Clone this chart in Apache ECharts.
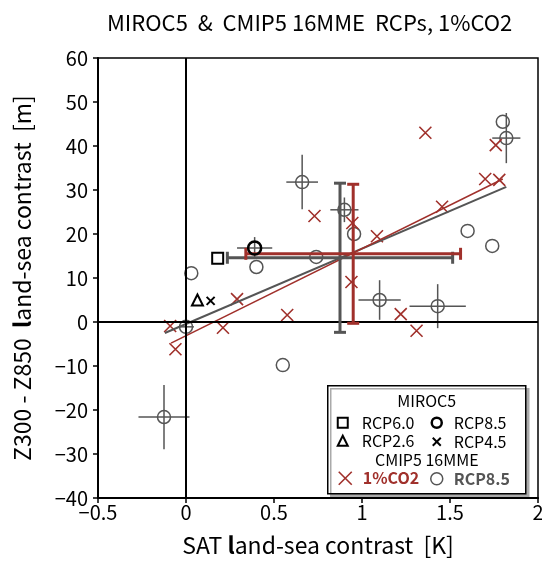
<!DOCTYPE html>
<html>
<head>
<meta charset="utf-8">
<script src="https://cdn.jsdelivr.net/npm/echarts@6/dist/echarts.min.js"></script>
<style>
  html, body { margin: 0; padding: 0; background: #fff; }
  #chart { width: 542px; height: 561px; }
</style>
</head>
<body>
<div id="chart"></div>
<script>
// CMIP5 16 models, RCP8.5 (gray circles)
const cmipRcp85 = [
  [1.80, 45.5], [1.82, 41.8], [1.74, 17.3], [1.60, 20.7], [0.955, 20.0], [0.90, 25.5],
  [0.66, 31.8], [0.74, 14.8], [1.10, 5.0], [1.43, 3.6], [0.03, 11.1], [0.40, 12.5],
  [0.0, -1.1], [0.55, -9.8], [-0.125, -21.6], [0.39, 16.8]
]
// [x, y, dx, dy] ensemble spread for models that have it
const cmipRcp85Err = [
  [1.82, 41.8, 0.08, 5.7], [0.90, 25.5, 0.08, 2.8], [0.66, 31.8, 0.09, 6.2],
  [1.10, 5.0, 0.12, 4.5], [1.43, 3.6, 0.16, 5.0], [0.0, -1.1, 0.045, 1.2],
  [-0.125, -21.6, 0.145, 7.3], [0.39, 16.8, 0.10, 2.5]
]
// CMIP5 16 models, 1%CO2 (red crosses)
const cmipCo2 = [
  [1.36, 43.0], [1.76, 40.2], [1.70, 32.5], [1.78, 32.3], [1.455, 26.2], [1.085, 19.5],
  [0.945, 22.5], [0.94, 9.1], [0.73, 24.1], [0.575, 1.6], [1.22, 1.8], [1.31, -2.0],
  [0.29, 5.2], [0.21, -1.3], [-0.09, -0.9], [-0.06, -6.2]
]
// multi-model mean and spread [x, y, dx, dy]
const mmeRcp85 = [[0.875, 14.6, 0.64, 16.95]]
const mmeCo2 = [[0.95, 15.5, 0.61, 15.8]]
// regression lines (end points)
const regRcp85 = [[-0.12, -2.5], [1.82, 30.7]]
const regCo2 = [[-0.085, -4.8], [1.80, 32.5]]
// MIROC5 runs
const miroc60 = [[0.18, 14.5]]
const miroc26 = [[0.065, 5.0]]
const miroc45 = [[0.14, 4.8]]
const miroc85 = [[0.39, 16.8]]

const RED = '#a0302b'
const GRAY = '#555555'
const FONT = 'Noto Sans CJK JP'
const X_PATH = 'path://M0,0L10,10M10,0L0,10'

const minus = v => (v < 0 ? '\u2212' + (-v) : String(v))

function errorBars(color, width, cap) {
  return function (params, api) {
    const x = api.value(0), y = api.value(1), dx = api.value(2), dy = api.value(3)
    const l = api.coord([x - dx, y]), r = api.coord([x + dx, y])
    const t = api.coord([x, y + dy]), b = api.coord([x, y - dy])
    const style = { stroke: color, lineWidth: width }
    const lines = [[l, r], [t, b]]
    if (cap) {
      lines.push([[l[0], l[1] - cap], [l[0], l[1] + cap]])
      lines.push([[r[0], r[1] - cap], [r[0], r[1] + cap]])
      lines.push([[t[0] - cap, t[1]], [t[0] + cap, t[1]]])
      lines.push([[b[0] - cap, b[1]], [b[0] + cap, b[1]]])
    }
    return {
      type: 'group',
      children: lines.map(p => ({
        type: 'line',
        shape: { x1: p[0][0], y1: p[0][1], x2: p[1][0], y2: p[1][1] },
        style: style
      }))
    }
  }
}

const chart = echarts.init(document.getElementById('chart'), null, { renderer: 'canvas' })

const legendX = 327, legendY = 385
chart.setOption({
  animation: false,
  textStyle: { fontFamily: FONT },
  title: {
    text: 'MIROC5  &  CMIP5 16MME  RCPs, 1%CO2',
    left: 102, top: 7,
    textStyle: { fontFamily: FONT, fontSize: 22, fontWeight: 'normal', color: '#000' }
  },
  grid: {
    left: 98, right: 4, top: 58, bottom: 63,
    outerBoundsMode: 'none',
    show: true, borderColor: '#000', borderWidth: 1.5
  },
  xAxis: {
    type: 'value', min: -0.5, max: 2, interval: 0.5,
    name: 'SAT {b|l}and-sea contrast  [K]',
    nameLocation: 'middle', nameGap: 36,
    nameTextStyle: {
      fontFamily: FONT, fontSize: 23, color: '#000',
      rich: { b: { fontFamily: FONT, fontSize: 23, fontWeight: 'bold', color: '#000' } }
    },
    axisLine: { onZero: false, lineStyle: { color: '#000', width: 2 } },
    axisTick: { length: 5, lineStyle: { color: '#000', width: 1.5 } },
    axisLabel: { formatter: minus, fontFamily: FONT, fontSize: 20, color: '#000', margin: 4 },
    splitLine: { show: false }
  },
  yAxis: {
    type: 'value', min: -40, max: 60, interval: 10,
    name: 'Z300 - Z850  {b|l}and-sea contrast  [m]',
    nameLocation: 'middle', nameGap: 64,
    nameTextStyle: {
      fontFamily: FONT, fontSize: 23, color: '#000',
      rich: { b: { fontFamily: FONT, fontSize: 23, fontWeight: 'bold', color: '#000' } }
    },
    axisLine: { onZero: false, lineStyle: { color: '#000', width: 2 } },
    axisTick: { length: 5, lineStyle: { color: '#000', width: 1.5 } },
    axisLabel: { formatter: minus, fontFamily: FONT, fontSize: 20, color: '#000', margin: 10 },
    splitLine: { show: false }
  },
  series: [
    {
      type: 'scatter', data: [], z: 1, silent: true,
      markLine: {
        silent: true, symbol: 'none', label: { show: false },
        lineStyle: { color: '#000', width: 2, type: 'solid' },
        data: [{ xAxis: 0 }, { yAxis: 0 }]
      }
    },
    {
      type: 'custom', z: 2, silent: true,
      renderItem: errorBars(GRAY, 1.5, 0),
      encode: { x: 0, y: 1 },
      data: cmipRcp85Err
    },
    {
      type: 'scatter', z: 3, data: cmipRcp85, symbol: 'circle', symbolSize: 13,
      itemStyle: { color: 'rgba(0,0,0,0)', borderColor: GRAY, borderWidth: 1.5, opacity: 1 }
    },
    {
      type: 'scatter', z: 3, data: cmipCo2, symbol: X_PATH, symbolSize: 12,
      itemStyle: { color: 'rgba(0,0,0,0)', borderColor: RED, borderWidth: 1.6, opacity: 1 }
    },
    {
      type: 'line', z: 4, data: regRcp85, showSymbol: false, symbol: 'none',
      lineStyle: { color: GRAY, width: 2 }
    },
    {
      type: 'line', z: 4, data: regCo2, showSymbol: false, symbol: 'none',
      lineStyle: { color: RED, width: 1.5 }
    },
    {
      type: 'custom', z: 5, silent: true,
      renderItem: errorBars(GRAY, 3, 6),
      encode: { x: 0, y: 1 },
      data: mmeRcp85
    },
    {
      type: 'custom', z: 5, silent: true,
      renderItem: errorBars(RED, 3, 6),
      encode: { x: 0, y: 1 },
      data: mmeCo2
    },
    {
      type: 'scatter', z: 6, data: miroc60, symbol: 'rect', symbolSize: 11,
      itemStyle: { color: '#fff', borderColor: '#000', borderWidth: 2, opacity: 1 }
    },
    {
      type: 'scatter', z: 6, data: miroc26, symbol: 'triangle', symbolSize: 11,
      itemStyle: { color: 'rgba(0,0,0,0)', borderColor: '#000', borderWidth: 2, opacity: 1 }
    },
    {
      type: 'scatter', z: 6, data: miroc45, symbol: X_PATH, symbolSize: 8,
      itemStyle: { color: 'rgba(0,0,0,0)', borderColor: '#000', borderWidth: 2, opacity: 1 }
    },
    {
      type: 'scatter', z: 6, data: miroc85, symbol: 'circle', symbolSize: 13,
      itemStyle: { color: 'rgba(0,0,0,0)', borderColor: '#000', borderWidth: 2.5, opacity: 1 }
    }
  ],
  graphic: [
    {
      type: 'group', left: legendX, top: legendY, z: 100,
      children: [
        {
          type: 'rect', shape: { x: 0, y: 0, width: 198, height: 108 },
          style: { fill: '#fff', stroke: '#000', lineWidth: 1.5,
            shadowColor: '#aaa', shadowOffsetX: 3, shadowOffsetY: 3, shadowBlur: 0 }
        },
        { type: 'text', x: 99, y: 15, style: { text: 'MIROC5', font: '16px "' + FONT + '"', fill: '#000', align: 'center', verticalAlign: 'middle' } },
        { type: 'rect', shape: { x: 10, y: 32, width: 10, height: 10 }, style: { fill: 'none', stroke: '#000', lineWidth: 2 } },
        { type: 'text', x: 34, y: 37, style: { text: 'RCP6.0', font: '16px "' + FONT + '"', fill: '#000', verticalAlign: 'middle' } },
        { type: 'circle', shape: { cx: 109, cy: 37, r: 5 }, style: { fill: 'none', stroke: '#000', lineWidth: 2.5 } },
        { type: 'text', x: 126, y: 37, style: { text: 'RCP8.5', font: '16px "' + FONT + '"', fill: '#000', verticalAlign: 'middle' } },
        { type: 'polygon', shape: { points: [[15, 50], [20, 60], [10, 60]] }, style: { fill: 'none', stroke: '#000', lineWidth: 2 } },
        { type: 'text', x: 34, y: 55, style: { text: 'RCP2.6', font: '16px "' + FONT + '"', fill: '#000', verticalAlign: 'middle' } },
        { type: 'polyline', shape: { points: [[105, 52], [113, 60]] }, style: { stroke: '#000', lineWidth: 2 } },
        { type: 'polyline', shape: { points: [[113, 52], [105, 60]] }, style: { stroke: '#000', lineWidth: 2 } },
        { type: 'text', x: 126, y: 56, style: { text: 'RCP4.5', font: '16px "' + FONT + '"', fill: '#000', verticalAlign: 'middle' } },
        { type: 'text', x: 99, y: 74, style: { text: 'CMIP5 16MME', font: '16px "' + FONT + '"', fill: '#000', align: 'center', verticalAlign: 'middle' } },
        { type: 'polyline', shape: { points: [[11, 86], [24, 99]] }, style: { stroke: RED, lineWidth: 1.6 } },
        { type: 'polyline', shape: { points: [[24, 86], [11, 99]] }, style: { stroke: RED, lineWidth: 1.6 } },
        { type: 'text', x: 35, y: 92, style: { text: '1%CO2', font: 'bold 16px "' + FONT + '"', fill: RED, verticalAlign: 'middle' } },
        { type: 'circle', shape: { cx: 109, cy: 93, r: 6 }, style: { fill: 'none', stroke: GRAY, lineWidth: 1.5 } },
        { type: 'text', x: 126, y: 93, style: { text: 'RCP8.5', font: 'bold 16px "' + FONT + '"', fill: GRAY, verticalAlign: 'middle' } }
      ]
    }
  ]
})
</script>
</body>
</html>
